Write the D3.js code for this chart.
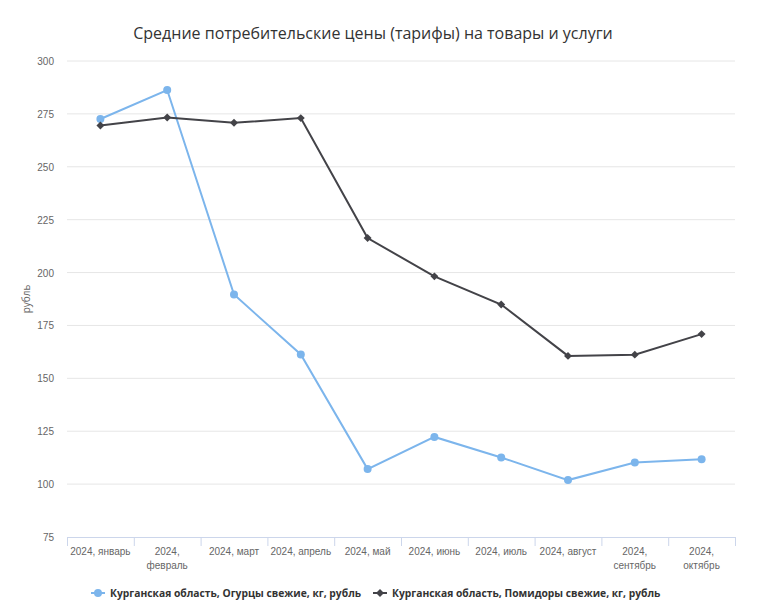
<!DOCTYPE html>
<html>
<head>
<meta charset="utf-8">
<script src="https://cdn.jsdelivr.net/npm/d3@7"></script>
<style>
  body { margin: 0; background: #fff; }
  svg { font-family: "Open Sans", "Noto Sans", sans-serif; }
</style>
</head>
<body>
<div id="chart"></div>
<script>
var title = 'Средние потребительские цены (тарифы) на товары и услуги';
var months = ['2024, январь', '2024, февраль', '2024, март', '2024, апрель', '2024, май',
  '2024, июнь', '2024, июль', '2024, август', '2024, сентябрь', '2024, октябрь'];
var cucumbers = [272.6, 286.3, 189.6, 161.3, 107.1, 122.3, 112.6, 101.9, 110.2, 111.8];
var tomatoes = [269.5, 273.3, 270.8, 273.0, 216.3, 198.2, 184.9, 160.6, 161.2, 170.9];
var yTicks = [75, 100, 125, 150, 175, 200, 225, 250, 275, 300];
var seriesNames = ['Курганская область, Огурцы свежие, кг, рубль',
  'Курганская область, Помидоры свежие, кг, рубль'];
var yTitle = 'рубль';

var W = 760, H = 610;
var margin = { top: 61, right: 25, bottom: 73, left: 67 };
var width = W - margin.left - margin.right;
var height = H - margin.top - margin.bottom;

var svg = d3.select('#chart').append('svg')
  .attr('width', W)
  .attr('height', H);

svg.append('text')
  .attr('x', W / 2 - 7)
  .attr('y', 39)
  .attr('text-anchor', 'middle')
  .style('font-size', '16px')
  .style('fill', '#333')
  .text(title);

var g = svg.append('g')
  .attr('transform', 'translate(' + margin.left + ',' + margin.top + ')');

var x = d3.scaleBand()
  .domain(months)
  .range([0, width]);

var y = d3.scaleLinear()
  .domain([75, 300])
  .range([height, 0]);

// grid
g.append('g')
  .selectAll('line')
  .data(yTicks.filter(function (d) { return d > 75; }))
  .enter().append('line')
  .attr('x1', 0)
  .attr('x2', width)
  .attr('y1', function (d) { return y(d); })
  .attr('y2', function (d) { return y(d); })
  .attr('stroke', '#e6e6e6')
  .attr('stroke-width', 1);

// y axis
var yAxis = g.append('g')
  .call(d3.axisLeft(y).tickValues(yTicks).tickSize(0).tickPadding(13));
yAxis.select('.domain').remove();
yAxis.selectAll('text')
  .style('font-size', '10px')
  .style('fill', '#666')
  .attr('dy', '0.35em');

g.append('text')
  .attr('transform', 'translate(' + (-41) + ',' + (height / 2) + ') rotate(-90)')
  .attr('dy', '0.35em')
  .attr('text-anchor', 'middle')
  .style('font-size', '10px')
  .style('fill', '#666')
  .text(yTitle);

// x axis
var xAxisG = g.append('g')
  .attr('transform', 'translate(0,' + height + ')')
  .call(d3.axisBottom(x).tickSize(0).tickFormat(''));
xAxisG.select('.domain').attr('stroke', '#ccd6eb');

var edges = months.map(function (m) { return x(m); }).concat([width]);
xAxisG.selectAll('.edge')
  .data(edges)
  .enter().append('line')
  .attr('class', 'edge')
  .attr('x1', function (d) { return d + 0.5; })
  .attr('x2', function (d) { return d + 0.5; })
  .attr('y1', 0)
  .attr('y2', 9)
  .attr('stroke', '#ccd6eb');

var labels = xAxisG.selectAll('.lbl')
  .data(months)
  .enter().append('text')
  .attr('class', 'lbl')
  .attr('x', function (d) { return x(d) + x.bandwidth() / 2; })
  .attr('y', 18)
  .attr('text-anchor', 'middle')
  .style('font-size', '10px')
  .style('fill', '#666')
  .text(function (d) { return d; });

// wrap labels that do not fit the category
labels.each(function (d) {
  var t = d3.select(this);
  if (this.getComputedTextLength() > x.bandwidth() - 3) {
    var parts = d.split(', ');
    t.text(null);
    t.append('tspan').attr('x', t.attr('x')).text(parts[0] + ',');
    t.append('tspan').attr('x', t.attr('x')).attr('dy', 14).text(parts[1]);
  }
});

// lines
var line = d3.line()
  .x(function (d, i) { return x(months[i]) + x.bandwidth() / 2; })
  .y(function (d) { return y(d); });

var colors = ['#7cb5ec', '#434348'];

g.append('path')
  .datum(cucumbers)
  .attr('fill', 'none')
  .attr('stroke', colors[0])
  .attr('stroke-width', 2)
  .attr('d', line);

g.append('path')
  .datum(tomatoes)
  .attr('fill', 'none')
  .attr('stroke', colors[1])
  .attr('stroke-width', 2)
  .attr('d', line);

g.selectAll('.dot')
  .data(cucumbers)
  .enter().append('circle')
  .attr('class', 'dot')
  .attr('cx', function (d, i) { return x(months[i]) + x.bandwidth() / 2; })
  .attr('cy', function (d) { return y(d); })
  .attr('r', 4)
  .attr('fill', colors[0]);

var diamond = d3.symbol().type(d3.symbolDiamond2).size(40);
g.selectAll('.dia')
  .data(tomatoes)
  .enter().append('path')
  .attr('class', 'dia')
  .attr('d', diamond)
  .attr('transform', function (d, i) {
    return 'translate(' + (x(months[i]) + x.bandwidth() / 2) + ',' + y(d) + ')';
  })
  .attr('fill', colors[1]);

// legend
var legendX = [91, 373];
var legend = svg.append('g')
  .selectAll('g')
  .data(seriesNames)
  .enter().append('g')
  .attr('transform', function (d, i) { return 'translate(' + legendX[i] + ',593)'; });

legend.append('line')
  .attr('x1', 0)
  .attr('x2', 14)
  .attr('stroke', function (d, i) { return colors[i]; })
  .attr('stroke-width', 2);

legend.append('path')
  .attr('transform', 'translate(7,0)')
  .attr('d', function (d, i) {
    return i === 0 ? d3.symbol().type(d3.symbolCircle).size(50)() : diamond();
  })
  .attr('fill', function (d, i) { return colors[i]; });

legend.append('text')
  .attr('x', 19)
  .attr('dy', '0.35em')
  .style('font-size', '10.3px')
  .style('font-weight', 'bold')
  .style('fill', '#333')
  .text(function (d) { return d; });
</script>
</body>
</html>
